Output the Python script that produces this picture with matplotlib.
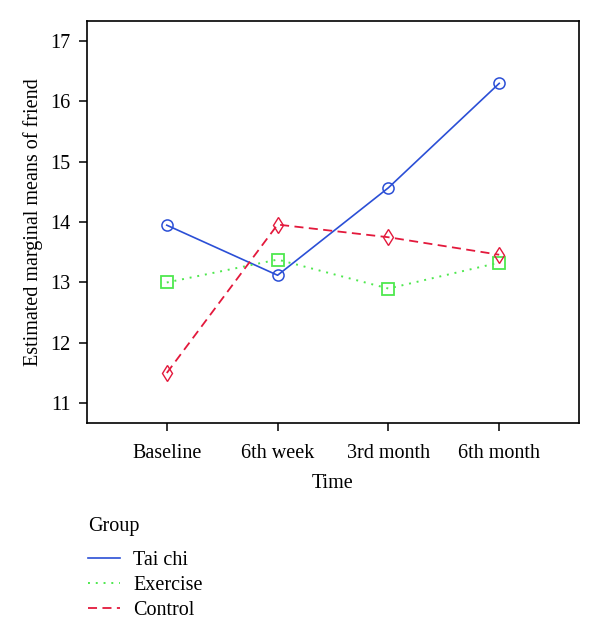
import matplotlib
matplotlib.use("Agg")
import matplotlib.pyplot as plt
from matplotlib.lines import Line2D

plt.rcParams['font.family'] = ['Liberation Serif', 'DejaVu Serif']

times = ["Baseline", "6th week", "3rd month", "6th month"]
taichi = [13.95, 13.12, 14.57, 16.30]
exercise = [13.00, 13.38, 12.90, 13.33]
control = [11.50, 13.96, 13.75, 13.46]

FS = 14.5
fig = plt.figure(figsize=(6.0, 6.43), dpi=100)
ax = fig.add_axes([0.145, 0.342, 0.820, 0.625])

x = list(range(1, len(times) + 1))
l1, = ax.plot(x, taichi, color='#2b4fd6', lw=1.2, ls='-', marker='o', ms=8,
              mfc='none', mec='#2b4fd6', mew=1.1, label='Tai chi')
l2, = ax.plot(x, exercise, color='#4ee84e', lw=1.4, ls=(0, (1, 3)), marker='s', ms=8,
              mfc='none', mec='#4ee84e', mew=1.3, label='Exercise')
l3, = ax.plot(x, control, color='#e3193c', lw=1.3, ls=(0, (5, 3)), marker='d', ms=8.5,
              mfc='none', mec='#e3193c', mew=1.0, label='Control')

ax.set_xlim(0.28, 4.72)
ax.set_ylim(10.67, 17.33)
ax.set_xticks(x)
ax.set_xticklabels(times)
ax.set_yticks([11, 12, 13, 14, 15, 16, 17])
ax.tick_params(direction='out', length=6, width=1.1, labelsize=FS)
ax.tick_params(axis='x', pad=9)
ax.tick_params(axis='y', pad=6)
for s in ax.spines.values():
    s.set_linewidth(1.2)
ax.set_xlabel("Time", fontsize=FS, labelpad=8)
ax.set_ylabel("Estimated marginal means of friend", fontsize=FS, labelpad=5)

fig.text(88 / 600, 1 - 527 / 643, "Group", fontsize=FS, ha='left', va='center')

handles = [Line2D([], [], color='#2b4fd6', lw=1.2, ls='-'),
           Line2D([], [], color='#4ee84e', lw=1.4, ls=(0, (1, 3))),
           Line2D([], [], color='#e3193c', lw=1.3, ls=(0, (5, 3)))]
leg = fig.legend(handles=handles, labels=['Tai chi', 'Exercise', 'Control'],
                 loc='upper left', bbox_to_anchor=(88 / 600, 1 - 551 / 643),
                 frameon=False, fontsize=FS, borderpad=0, borderaxespad=0,
                 handlelength=1.6, handletextpad=0.65, labelspacing=0.3)

fig.savefig("out.png", dpi=100)
